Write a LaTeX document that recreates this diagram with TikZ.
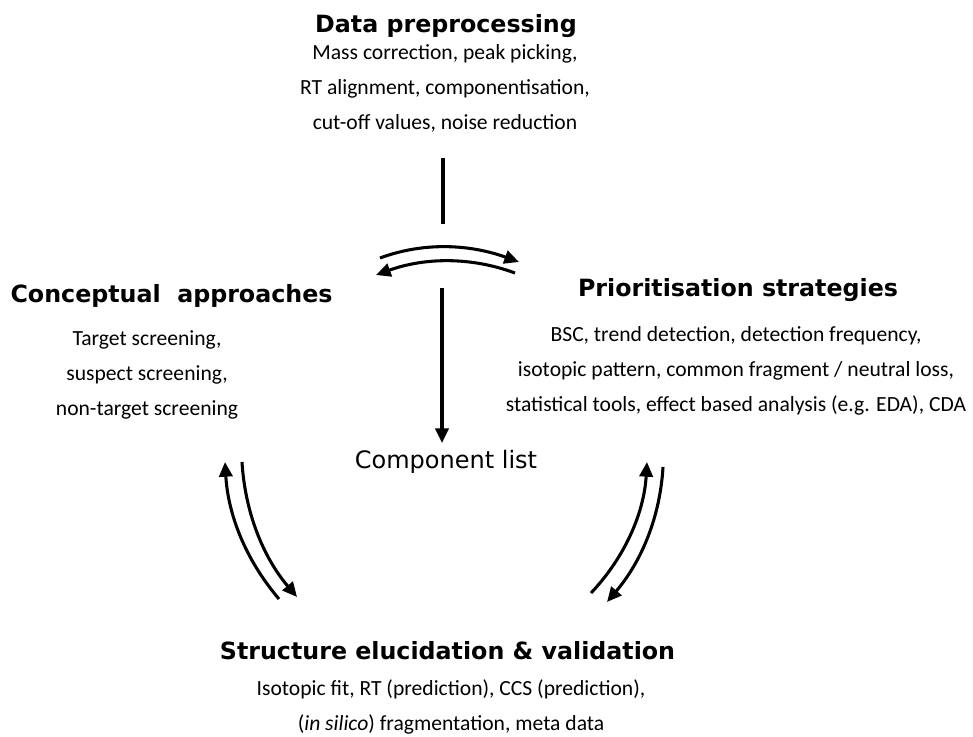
\documentclass[tikz,border=0pt]{standalone}
\usepackage{fontspec}
\setmainfont{Carlito}
\newfontfamily\headfont{DejaVu Sans}
\usetikzlibrary{arrows.meta}
\begin{document}
\begin{tikzpicture}[x=0.75pt,y=-0.75pt,
  head/.style={font=\headfont\bfseries\fontsize{17.8}{21}\selectfont, inner sep=0pt, anchor=base},
  % multi-line blocks are anchored at the baseline of their last line
  body/.style={font=\fontsize{16.2}{26.2}\selectfont, align=center, inner sep=0pt, anchor=base},
  flow/.style={line width=2.3pt},
  flowarrow/.style={line width=2.3pt, -{Triangle[length=11pt,width=10pt]}}]
\useasboundingbox (0,0) rectangle (973,736);

% stage titles and their contents
\node[head] (dataH) at (446,32) {Data preprocessing};
\node[body] (dataB) at (445,129) {Mass correction, peak picking,\\RT alignment, componentisation,\\cut-off values, noise reduction};

\node[head] (concH) at (171.5,302) {Conceptual\ \ approaches};
\node[body] (concB) at (147,415) {Target screening,\\suspect screening,\\non-target screening};

\node[head] (prioH) at (738,296) {Prioritisation strategies};
\node[body] (prioB) at (736,411) {BSC, trend detection, detection frequency,\\isotopic pattern, common fragment / neutral loss,\\statistical tools, effect based analysis (e.g. EDA), CDA};

\node[head] (strH) at (447.5,659) {Structure elucidation \& validation};
\node[body] (strB) at (451,730) {Isotopic fit, RT (prediction), CCS (prediction),\\(\textit{in silico}) fragmentation, meta data};

\node[font=\headfont\fontsize{18}{21}\selectfont, inner sep=0pt, anchor=base] (comp) at (446,468) {Component list};

% connector end points
\coordinate (lineStart) at (443,158);
\coordinate (lineEnd) at (443,224);
\coordinate (downStart) at (442,288);
\coordinate (downEnd) at (442,443);
\coordinate (tA1) at (380,258); \coordinate (tA2) at (519,262);
\coordinate (tB1) at (515,273); \coordinate (tB2) at (376,275);
\coordinate (lA1) at (279,599); \coordinate (lA2) at (225,462);
\coordinate (lB1) at (242,462); \coordinate (lB2) at (297,597);
\coordinate (rA1) at (591,593); \coordinate (rA2) at (647,462);
\coordinate (rB1) at (663,467); \coordinate (rB2) at (607,602);

% vertical flow from preprocessing to the component list
\draw[flow] (lineStart) -- (lineEnd);
\draw[flowarrow] (downStart) -- (downEnd);

% paired exchange arrows
\draw[flowarrow] (tA1) .. controls (426,241) and (472,245) .. (tA2);
\draw[flowarrow] (tB1) .. controls (469,256) and (423,258) .. (tB2);

\draw[flowarrow] (lA1) .. controls (245,559) and (228,514) .. (lA2);
\draw[flowarrow] (lB1) .. controls (245,512) and (263,557) .. (lB2);

\draw[flowarrow] (rA1) .. controls (625,557) and (644,513) .. (rA2);
\draw[flowarrow] (rB1) .. controls (660,518) and (641,562) .. (rB2);
\end{tikzpicture}
\end{document}
